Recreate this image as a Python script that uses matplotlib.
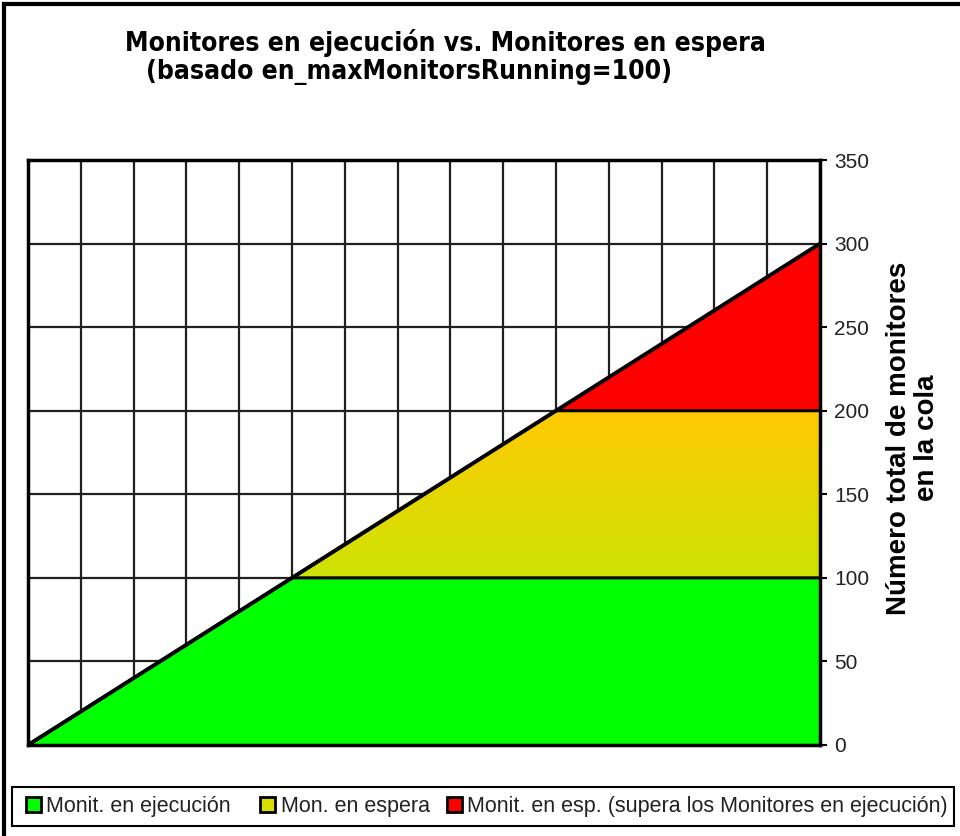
import matplotlib
matplotlib.use("Agg")
import matplotlib.pyplot as plt
import numpy as np
from matplotlib.patches import Polygon, Patch, Rectangle
from matplotlib.lines import Line2D

# ---------------- data ----------------
x_steps = [0, 1, 2, 3, 4, 5, 6, 7, 8, 9, 10, 11, 12, 13, 14, 15]
running = [0, 20, 40, 60, 80, 100, 100, 100, 100, 100, 100, 100, 100, 100, 100, 100]
waiting = [0, 0, 0, 0, 0, 0, 20, 40, 60, 80, 100, 100, 100, 100, 100, 100]
exceeding = [0, 0, 0, 0, 0, 0, 0, 0, 0, 0, 0, 20, 40, 60, 80, 100]
y_ticks = [0, 50, 100, 150, 200, 250, 300, 350]
legend_labels = ["Monit. en ejecución", "Mon. en espera",
                 "Monit. en esp. (supera los Monitores en ejecución)"]
title_line1 = "Monitores en ejecución vs. Monitores en espera"
title_line2 = "(basado en_maxMonitorsRunning=100)"
ylabel_text = "Número total de monitores\nen la cola"

plt.rcParams['font.family'] = ['Liberation Sans', 'DejaVu Sans']

W, H = 960, 836
fig = plt.figure(figsize=(W / 100, H / 100), dpi=100)
ax = fig.add_axes([28 / W, 1 - 745 / H, (820 - 28) / W, (745 - 160) / H])

xs = np.array(x_steps, dtype=float)
r = np.array(running, dtype=float)
w = r + np.array(waiting, dtype=float)
e = w + np.array(exceeding, dtype=float)

# grid
for xv in x_steps:
    ax.axvline(xv, color="#202020", lw=1.6, zorder=1)
for yv in y_ticks:
    ax.axhline(yv, color="#202020", lw=1.6, zorder=1)

# green
ax.fill_between(xs, 0, r, color="#00FF00", lw=0, zorder=2)
# yellow gradient
poly_y = np.concatenate([np.column_stack([xs, w]), np.column_stack([xs[::-1], r[::-1]])])
grad = np.linspace(0, 1, 256).reshape(-1, 1)
c_bot = np.array([0.80, 0.89, 0.0])
c_top = np.array([1.0, 0.79, 0.0])
img = c_bot + (c_top - c_bot) * grad[:, :, None]
im = ax.imshow(img, extent=[0, 15, 100, 200], origin="lower", aspect="auto", zorder=2,
               interpolation="bilinear")
clip = Polygon(poly_y, closed=True, transform=ax.transData, facecolor="none", edgecolor="none")
ax.add_patch(clip)
im.set_clip_path(clip)
# red
ax.fill_between(xs, w, e, color="#FF0000", lw=0, zorder=2)

# edges
ax.plot(xs, r, color="black", lw=2.2, zorder=3)
ax.plot(xs, w, color="black", lw=2.2, zorder=3)
ax.plot(xs, e, color="black", lw=2.8, zorder=3)

ax.set_xlim(0, 15)
ax.set_ylim(0, 350)
ax.set_xticks([])
ax.yaxis.tick_right()
ax.set_yticks(y_ticks)
ax.tick_params(axis="y", direction="out", length=5, width=1.5, labelsize=15, pad=5,
               colors="black")
for lab in ax.get_yticklabels():
    lab.set_color("#222222")
for s in ax.spines.values():
    s.set_linewidth(2.5)
    s.set_zorder(4)

tkw = dict(ha="center", va="center", fontsize=19, fontweight="bold",
           family=["DejaVu Sans"], fontstretch="condensed")
fig.text(445 / W, 1 - 43 / H, title_line1, **tkw)
fig.text(409 / W, 1 - 72 / H, title_line2, **tkw)
fig.text(913 / W, 1 - 438 / H, ylabel_text, ha="center", va="center", rotation=90,
         fontsize=20, fontweight="bold", linespacing=1.05)

# legend frame
fig.add_artist(Rectangle((12 / W, 1 - 826 / H), (954 - 12) / W, 39 / H,
                         transform=fig.transFigure, facecolor="white",
                         edgecolor="black", lw=1.5, zorder=1))
handles = [Patch(facecolor="#00FF00", edgecolor="black", lw=2),
           Patch(facecolor="#D9DE00", edgecolor="black", lw=2),
           Patch(facecolor="#FF0000", edgecolor="black", lw=2)]
shown = [legend_labels[0] + "  ", legend_labels[1], legend_labels[2]]
leg = fig.legend(handles, shown, loc="center left", ncol=3,
                 bbox_to_anchor=(26 / W, 1 - 806.5 / H),
                 frameon=False, fontsize=15.5, handlelength=0.7, handleheight=0.7,
                 handletextpad=0.25, columnspacing=0.8, borderpad=0, borderaxespad=0)
leg.set_zorder(2)
for t in leg.get_texts():
    t.set_color("#222222")

# figure border (left & top)
fig.add_artist(Line2D([4 / W, 4 / W], [0, 1 - 4 / H], color="black", lw=3, transform=fig.transFigure))
fig.add_artist(Line2D([4 / W, 1], [1 - 4 / H, 1 - 4 / H], color="black", lw=3, transform=fig.transFigure))

fig.savefig("out.png", dpi=100)
